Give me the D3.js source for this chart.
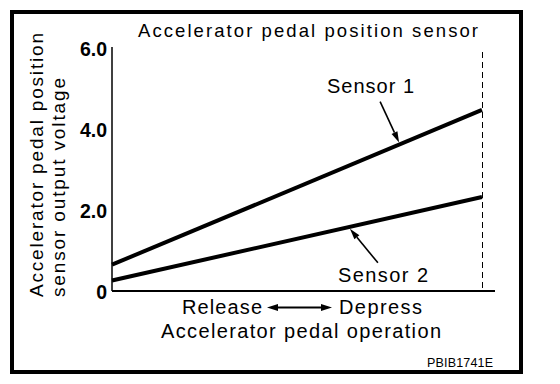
<!DOCTYPE html>
<html>
<head>
<meta charset="utf-8">
<script src="https://cdn.jsdelivr.net/npm/d3@7/dist/d3.min.js"></script>
<style>
  html, body { margin: 0; padding: 0; background: #fff; }
  svg { display: block; }
  text { font-family: "Liberation Sans", Arial, Helvetica, sans-serif; fill: #000; }
</style>
</head>
<body>
<svg id="chart" width="560" height="384"></svg>
<script>
// ---- data ----
const pedalPositions = [0, 1];            // 0 = Release, 1 = Depress
const sensor1 = [0.65, 4.47];             // V
const sensor2 = [0.26, 2.32];             // V
const yTicks = [0, 2, 4, 6];
const yTickLabels = ["0", "2.0", "4.0", "6.0"];
const seriesNames = ["Sensor 1", "Sensor 2"];
const titleText = "Accelerator pedal position sensor";
const yTitleLines = ["Accelerator pedal position", "sensor output voltage"];
const xEndLabels = ["Release", "Depress"];
const xTitle = "Accelerator pedal operation";
const figId = "PBIB1741E";

const svg = d3.select("#chart");

// border frame
svg.append("rect").attr("x", 12).attr("y", 12).attr("width", 509).attr("height", 360)
  .attr("fill", "none").attr("stroke", "#000").attr("stroke-width", 4);

const x = d3.scaleLinear().domain([0, 1]).range([112, 482]);
const y = d3.scaleLinear().domain([0, 6]).range([291, 48]);

// y axis
const yAxis = d3.axisLeft(y).tickValues(yTicks).tickSize(0).tickPadding(5)
  .tickFormat((d, i) => yTickLabels[i]);
const gy = svg.append("g").attr("transform", `translate(${x(0)},0)`).call(yAxis);
gy.select(".domain").attr("stroke", "#000").attr("stroke-width", 1.5)
  .attr("d", `M0,${y(6) - 1}V${y(0)}`);
gy.selectAll("text").style("font-size", "19.5px").style("font-weight", "bold")
  .attr("fill", "#000").attr("dy", "0.36em")
  .attr("font-family", "'Liberation Sans', Arial, sans-serif");

// x axis (no ticks)
const xAxis = d3.axisBottom(x).tickValues([]).tickSizeOuter(0);
const gx = svg.append("g").attr("transform", `translate(0,${y(0)})`).call(xAxis);
gx.select(".domain").attr("stroke", "#000").attr("stroke-width", 2)
  .attr("d", `M${x(0)},0H${x(1) + 13}`);

// dashed end line
svg.append("line").attr("x1", x(1)).attr("x2", x(1)).attr("y1", y(5.9)).attr("y2", y(0))
  .attr("stroke", "#000").attr("stroke-width", 1).attr("stroke-dasharray", "6,4")
  .attr("shape-rendering", "crispEdges");

// series lines
const line = d3.line().x((d, i) => x(pedalPositions[i])).y(d => y(d));
[sensor1, sensor2].forEach(s => {
  svg.append("path").datum(s).attr("d", line).attr("fill", "none")
    .attr("stroke", "#000").attr("stroke-width", 4);
});

// helper: value on a series at pedal position p
function valAt(s, p) {
  return s[0] + (s[1] - s[0]) * (p - pedalPositions[0]) / (pedalPositions[1] - pedalPositions[0]);
}

function arrow(x1, y1, x2, y2, len, hw) {
  const ang = Math.atan2(y2 - y1, x2 - x1);
  const bx = x2 - len * Math.cos(ang), by = y2 - len * Math.sin(ang);
  svg.append("line").attr("x1", x1).attr("y1", y1).attr("x2", bx).attr("y2", by)
    .attr("stroke", "#000").attr("stroke-width", 1.6);
  const px = -Math.sin(ang) * hw, py = Math.cos(ang) * hw;
  svg.append("path")
    .attr("d", `M${x2},${y2}L${bx + px},${by + py}L${bx - px},${by - py}Z`)
    .attr("fill", "#000");
}

// Sensor labels + pointer arrows
const tip1p = 0.776, tip2p = 0.643;
const t1x = x(tip1p), t1y = y(valAt(sensor1, tip1p)) - 2;
arrow(t1x - 19, t1y - 41, t1x, t1y, 11, 3.2);
svg.append("text").attr("x", 327).attr("y", 93).text(seriesNames[0])
  .style("font-size", "20px").attr("textLength", 87).attr("lengthAdjust", "spacing");

const t2x = x(tip2p), t2y = y(valAt(sensor2, tip2p)) + 2;
arrow(t2x + 28, t2y + 34, t2x, t2y, 11, 3.2);
svg.append("text").attr("x", 338).attr("y", 282).text(seriesNames[1])
  .style("font-size", "20px").attr("textLength", 90).attr("lengthAdjust", "spacing");

// title
svg.append("text").attr("x", 138).attr("y", 36.5).text(titleText)
  .style("font-size", "18.5px").attr("textLength", 340).attr("lengthAdjust", "spacing");

// y title (two rotated lines)
[[43, 264], [65, 219]].forEach((p, i) => {
  svg.append("text").attr("transform", `translate(${p[0]},297) rotate(-90)`)
    .attr("x", 0).attr("y", 0).text(yTitleLines[i])
    .style("font-size", "19px").attr("textLength", p[1]).attr("lengthAdjust", "spacing");
});

// x labels
svg.append("text").attr("x", 182).attr("y", 314).text(xEndLabels[0])
  .style("font-size", "20px").attr("textLength", 80).attr("lengthAdjust", "spacing");
svg.append("text").attr("x", 339).attr("y", 314).text(xEndLabels[1])
  .style("font-size", "20px").attr("textLength", 83).attr("lengthAdjust", "spacing");
// double-headed arrow between them
(function () {
  const ya = 307.5, xa = 267, xb = 332;
  svg.append("line").attr("x1", xa + 9).attr("x2", xb - 9).attr("y1", ya).attr("y2", ya)
    .attr("stroke", "#000").attr("stroke-width", 2);
  svg.append("path").attr("d", `M${xa},${ya}L${xa + 11},${ya - 3.5}L${xa + 11},${ya + 3.5}Z`).attr("fill", "#000");
  svg.append("path").attr("d", `M${xb},${ya}L${xb - 11},${ya - 3.5}L${xb - 11},${ya + 3.5}Z`).attr("fill", "#000");
})();
svg.append("text").attr("x", 161).attr("y", 338).text(xTitle)
  .style("font-size", "20px").attr("textLength", 280).attr("lengthAdjust", "spacing");

// figure id
svg.append("text").attr("x", 427).attr("y", 367).text(figId)
  .style("font-size", "12.5px").attr("textLength", 66).attr("lengthAdjust", "spacing");
</script>
</body>
</html>
